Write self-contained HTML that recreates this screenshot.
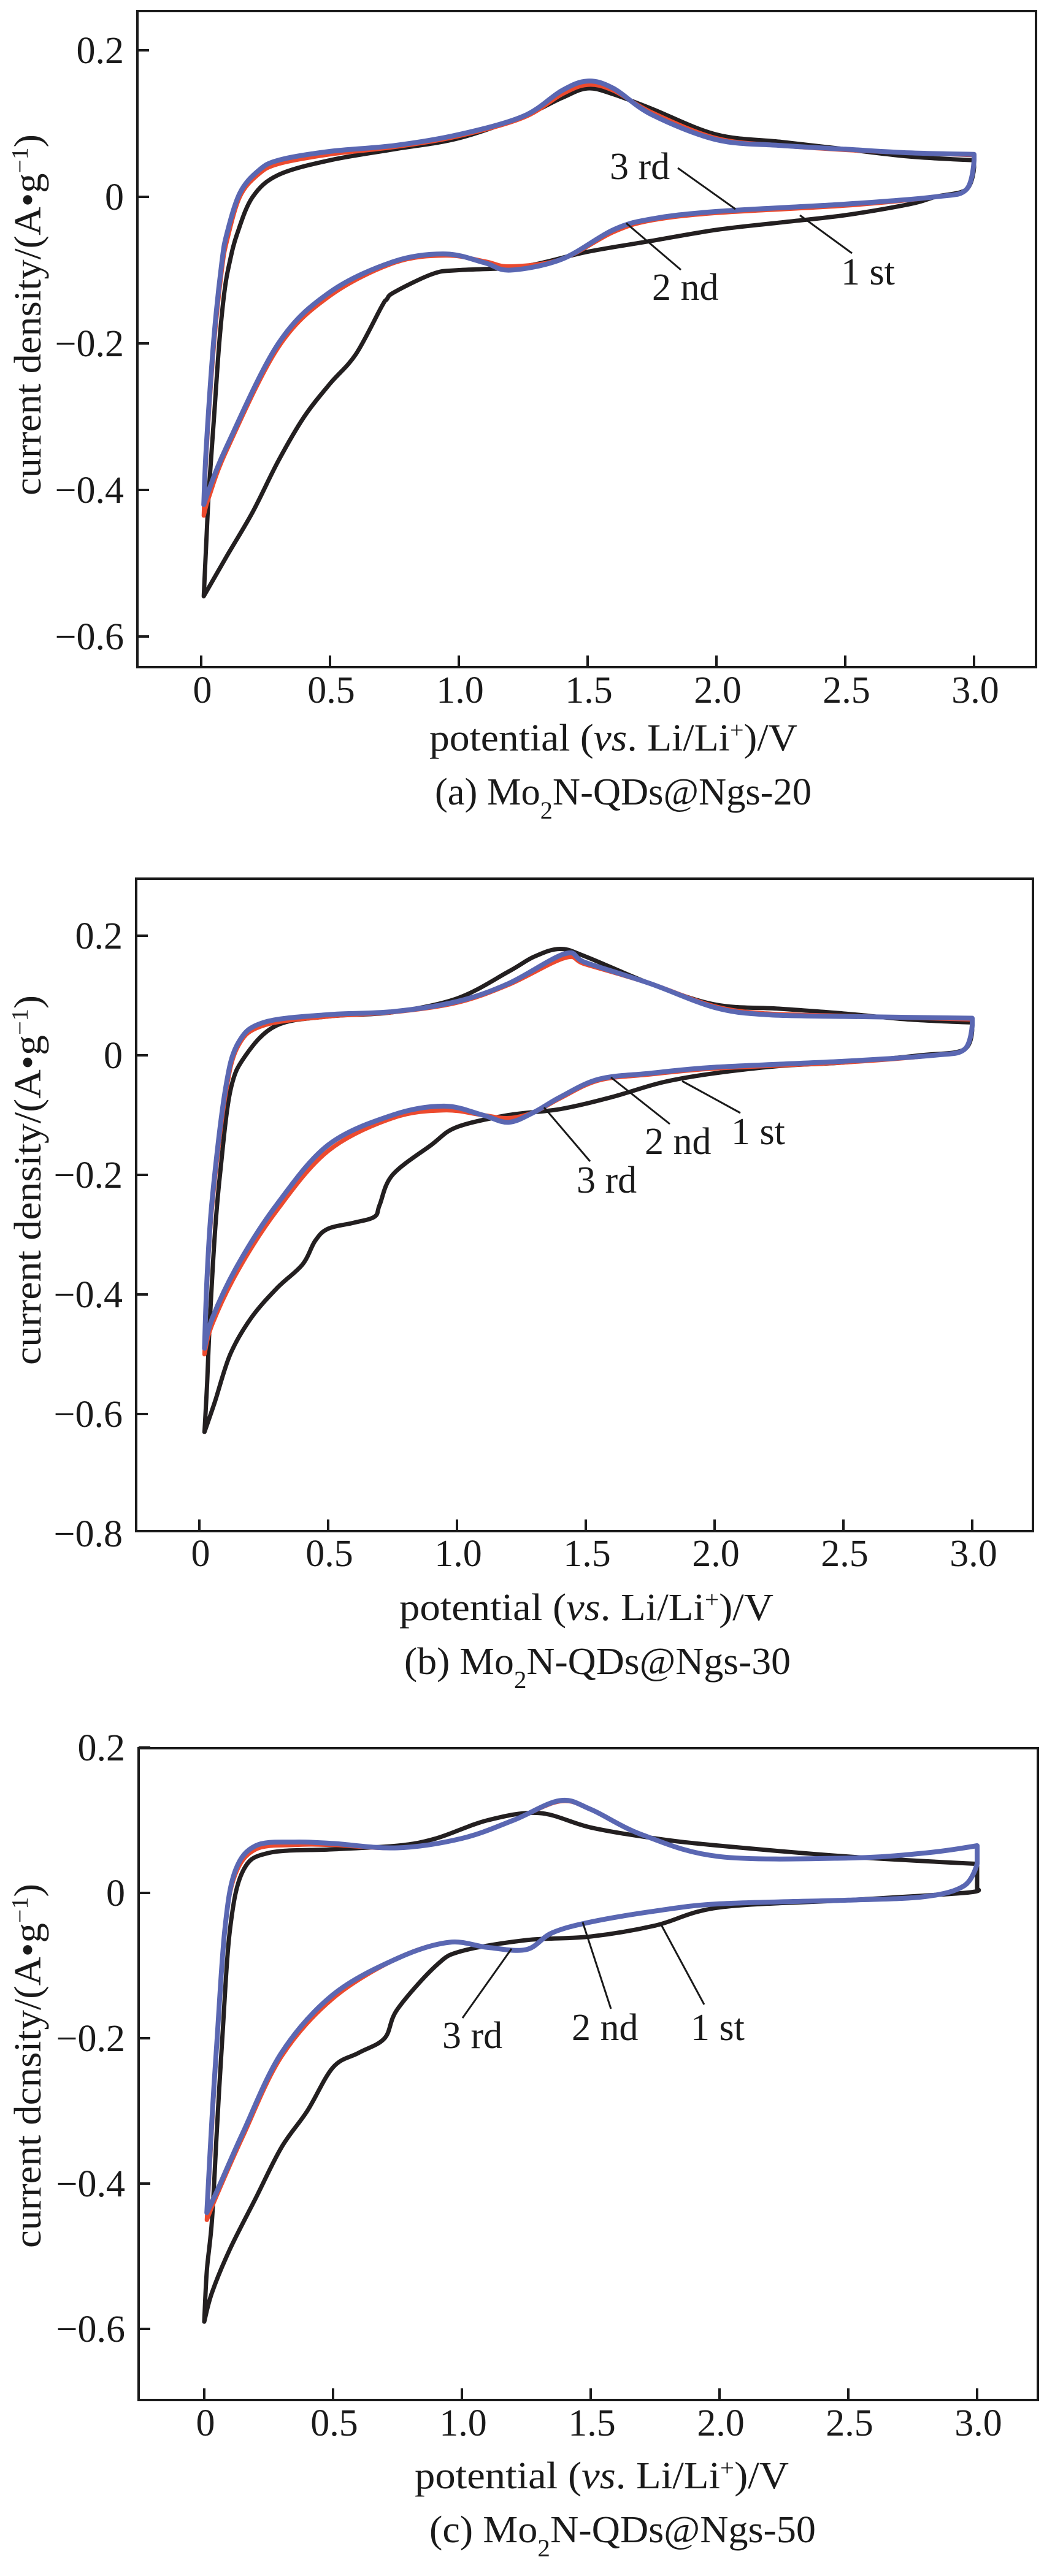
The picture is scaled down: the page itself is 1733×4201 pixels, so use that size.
<!DOCTYPE html>
<html>
<head>
<meta charset="utf-8">
<style>
html,body{margin:0;padding:0;background:#fff;}
svg{display:block;}
text{font-family:"Liberation Serif","DejaVu Serif",serif;fill:#1a1a1a;}
</style>
</head>
<body>
<svg id="fig" width="1733" height="4201" viewBox="0 0 1733 4201" xmlns="http://www.w3.org/2000/svg"></svg>
<script>
// ---------- DATA (potential V, current density A/g) ----------
// Panel (a) Mo2N-QDs@Ngs-20
const aCycle1X = [0.01,0.02,0.03,0.05,0.07,0.09,0.11,0.14,0.2,0.3,0.5,0.75,1.0,1.25,1.4,1.5,1.6,1.75,2.0,2.25,2.5,2.75,3.0, 3.0,2.97,2.85,2.75,2.5,2.25,2.0,1.75,1.5,1.25,1.0,0.9,0.75,0.72,0.7,0.6,0.5,0.4,0.3,0.2,0.1,0.01];
const aCycle1Y = [-0.545,-0.47,-0.4,-0.3,-0.2,-0.13,-0.09,-0.05,0.0,0.03,0.05,0.065,0.08,0.11,0.135,0.148,0.14,0.12,0.085,0.075,0.065,0.055,0.05, 0.04,0.01,0.0,-0.01,-0.025,-0.035,-0.045,-0.06,-0.075,-0.095,-0.1,-0.105,-0.13,-0.14,-0.15,-0.215,-0.255,-0.3,-0.36,-0.43,-0.49,-0.545];
const aCycle2X = [0.01,0.02,0.05,0.08,0.1,0.15,0.22,0.3,0.5,0.75,1.0,1.25,1.4,1.5,1.6,1.75,2.0,2.25,2.5,2.75,3.0, 3.0,2.97,2.85,2.5,2.0,1.75,1.6,1.4,1.2,1.1,0.95,0.75,0.5,0.3,0.1,0.03,0.01];
const aCycle2Y = [-0.435,-0.35,-0.2,-0.1,-0.06,0.0,0.03,0.045,0.058,0.068,0.083,0.108,0.14,0.153,0.145,0.115,0.08,0.07,0.064,0.06,0.057, 0.05,0.01,0.0,-0.012,-0.022,-0.032,-0.048,-0.085,-0.095,-0.088,-0.08,-0.09,-0.135,-0.205,-0.345,-0.41,-0.435];
const aCycle3X = [0.01,0.02,0.05,0.08,0.1,0.15,0.22,0.3,0.5,0.75,1.0,1.25,1.4,1.5,1.6,1.75,2.0,2.25,2.5,2.75,3.0, 3.0,2.97,2.85,2.5,2.0,1.75,1.6,1.4,1.2,1.1,0.95,0.75,0.5,0.3,0.1,0.03,0.01];
const aCycle3Y = [-0.42,-0.34,-0.19,-0.09,-0.05,0.005,0.035,0.05,0.062,0.07,0.085,0.11,0.145,0.158,0.148,0.112,0.078,0.07,0.065,0.06,0.058, 0.05,0.01,0.0,-0.01,-0.02,-0.03,-0.045,-0.085,-0.1,-0.09,-0.078,-0.088,-0.13,-0.2,-0.34,-0.4,-0.42];

// Panel (b) Mo2N-QDs@Ngs-30
const bCycle1X = [0.02,0.03,0.04,0.06,0.08,0.12,0.18,0.3,0.5,0.75,1.0,1.2,1.3,1.4,1.5,1.75,2.0,2.25,2.5,2.75,3.0, 3.0,2.97,2.8,2.5,2.25,2.0,1.8,1.6,1.4,1.2,1.0,0.9,0.75,0.7,0.68,0.6,0.5,0.45,0.4,0.3,0.2,0.12,0.06,0.02];
const bCycle1Y = [-0.63,-0.55,-0.45,-0.3,-0.2,-0.06,0.0,0.05,0.065,0.072,0.095,0.14,0.165,0.178,0.165,0.12,0.085,0.078,0.07,0.06,0.055, 0.05,0.01,0.0,-0.012,-0.018,-0.03,-0.045,-0.07,-0.09,-0.1,-0.12,-0.15,-0.2,-0.25,-0.27,-0.28,-0.29,-0.31,-0.35,-0.39,-0.44,-0.5,-0.58,-0.63];
const bCycle2X = [0.02,0.03,0.05,0.1,0.15,0.25,0.5,0.75,1.0,1.2,1.42,1.5,1.75,2.0,2.2,2.5,3.0, 3.0,2.97,2.85,2.5,2.0,1.75,1.55,1.4,1.3,1.2,1.1,0.95,0.75,0.5,0.3,0.15,0.05,0.02];
const bCycle2Y = [-0.5,-0.38,-0.25,-0.07,0.015,0.05,0.065,0.072,0.088,0.118,0.163,0.152,0.12,0.082,0.07,0.066,0.06, 0.05,0.01,0.0,-0.012,-0.022,-0.032,-0.042,-0.072,-0.095,-0.105,-0.1,-0.092,-0.105,-0.16,-0.26,-0.36,-0.45,-0.5];
const bCycle3X = [0.02,0.03,0.05,0.1,0.15,0.25,0.5,0.75,1.0,1.2,1.42,1.5,1.75,2.0,2.2,2.5,3.0, 3.0,2.97,2.85,2.5,2.0,1.75,1.55,1.4,1.3,1.2,1.1,0.95,0.75,0.5,0.3,0.15,0.05,0.02];
const bCycle3Y = [-0.49,-0.37,-0.24,-0.06,0.02,0.055,0.068,0.073,0.09,0.12,0.17,0.155,0.12,0.08,0.068,0.065,0.062, 0.05,0.01,0.0,-0.01,-0.02,-0.03,-0.04,-0.07,-0.095,-0.112,-0.1,-0.085,-0.1,-0.15,-0.25,-0.35,-0.44,-0.49];

// Panel (c) Mo2N-QDs@Ngs-50
const cCycle1X = [0.0,0.01,0.03,0.05,0.07,0.1,0.15,0.25,0.5,0.75,0.9,1.1,1.3,1.5,1.75,2.0,2.5,3.0, 3.0,2.95,2.5,2.0,1.75,1.5,1.25,1.0,0.9,0.75,0.7,0.6,0.5,0.4,0.3,0.2,0.1,0.03,0.0];
const cCycle1Y = [-0.59,-0.52,-0.45,-0.32,-0.2,-0.05,0.03,0.055,0.06,0.065,0.075,0.1,0.11,0.09,0.075,0.065,0.05,0.04, 0.005,0.0,-0.01,-0.02,-0.045,-0.06,-0.065,-0.08,-0.1,-0.16,-0.2,-0.22,-0.24,-0.3,-0.35,-0.42,-0.49,-0.55,-0.59];
const cCycle2X = [0.01,0.03,0.05,0.08,0.12,0.2,0.35,0.5,0.75,1.0,1.2,1.38,1.5,1.7,2.0,2.5,2.8,3.0, 3.0,2.95,2.8,2.5,2.0,1.75,1.5,1.35,1.25,1.1,0.95,0.75,0.5,0.3,0.15,0.05,0.01];
const cCycle2Y = [-0.45,-0.32,-0.2,-0.05,0.025,0.06,0.066,0.066,0.062,0.075,0.1,0.126,0.115,0.08,0.05,0.048,0.055,0.065, 0.04,0.01,-0.005,-0.01,-0.015,-0.025,-0.04,-0.055,-0.078,-0.075,-0.068,-0.09,-0.145,-0.225,-0.335,-0.415,-0.45];
const cCycle3X = [0.01,0.03,0.05,0.08,0.12,0.2,0.35,0.5,0.75,1.0,1.2,1.38,1.5,1.7,2.0,2.5,2.8,3.0, 3.0,2.95,2.8,2.5,2.0,1.75,1.5,1.35,1.25,1.1,0.95,0.75,0.5,0.3,0.15,0.05,0.01];
const cCycle3Y = [-0.44,-0.31,-0.2,-0.05,0.03,0.065,0.07,0.068,0.062,0.075,0.1,0.127,0.115,0.08,0.05,0.048,0.055,0.065, 0.04,0.01,-0.005,-0.01,-0.015,-0.025,-0.04,-0.055,-0.078,-0.075,-0.068,-0.09,-0.14,-0.22,-0.33,-0.41,-0.44];

// Tick labels
const xTickValues = [0,0.5,1.0,1.5,2.0,2.5,3.0];
const xTickLabels = ["0","0.5","1.0","1.5","2.0","2.5","3.0"];
const aYTickValues = [0.2,0,-0.2,-0.4,-0.6];
const aYTickLabels = ["0.2","0","\u22120.2","\u22120.4","\u22120.6"];
const bYTickValues = [0.2,0,-0.2,-0.4,-0.6,-0.8];
const bYTickLabels = ["0.2","0","\u22120.2","\u22120.4","\u22120.6","\u22120.8"];
const cYTickValues = [0.2,0,-0.2,-0.4,-0.6];
const cYTickLabels = ["0.2","0","\u22120.2","\u22120.4","\u22120.6"];

// ---------- LAYOUT ----------
const NS = "http://www.w3.org/2000/svg";
const svg = document.getElementById('fig');
const COLORS = ["#231f20","#ec4a2e","#5a67b2"];
const WIDTHS = [7,7,8];

function mk(tag, attrs, parent){
  const e = document.createElementNS(NS, tag);
  for (const k in attrs) e.setAttribute(k, attrs[k]);
  (parent||svg).appendChild(e);
  return e;
}

// Catmull-Rom smoothing; a vertical step (equal x) is treated as a sharp corner
function smoothPath(pts){
  const n = pts.length;
  const corner = i => (i > 0 && Math.abs(pts[i][0]-pts[i-1][0]) < 0.5) || (i < n-1 && Math.abs(pts[i][0]-pts[i+1][0]) < 0.5);
  let d = 'M' + pts[0][0].toFixed(1) + ',' + pts[0][1].toFixed(1);
  for (let i = 0; i < n - 1; i++){
    const p0 = pts[Math.max(0, i-1)], p1 = pts[i], p2 = pts[i+1], p3 = pts[Math.min(n-1, i+2)];
    let c1x = p1[0] + (p2[0]-p0[0])/6, c1y = p1[1] + (p2[1]-p0[1])/6;
    let c2x = p2[0] - (p3[0]-p1[0])/6, c2y = p2[1] - (p3[1]-p1[1])/6;
    if (corner(i)) { c1x = p1[0]; c1y = p1[1]; }
    if (corner(i+1)) { c2x = p2[0]; c2y = p2[1]; }
    d += 'C' + c1x.toFixed(1) + ',' + c1y.toFixed(1) + ' ' + c2x.toFixed(1) + ',' + c2y.toFixed(1) + ' ' + p2[0].toFixed(1) + ',' + p2[1].toFixed(1);
  }
  return d;
}

const panels = [
  {id:'a', left:224, right:1689, top:18, bottom:1088, x0:328, xStep:210, y0:321, yStep:239,
   yTicks:aYTickValues, yLabels:aYTickLabels, cycles:[[aCycle1X,aCycle1Y],[aCycle2X,aCycle2Y],[aCycle3X,aCycle3Y]],
   xLabelY:1146, titleY:1224, titleX:1000, titleLen:600, capY:1312, capX:1016, capLen:614, capText:['(a) Mo','N-QDs@Ngs-20'],
   yTitleX:66, yTitleTop:219, yTitleBot:808,
   notes:[{t:'3 rd',x:994,y:292,l:[1105,274,1199,341]},{t:'2 nd',x:1063,y:489,l:[1021,364,1110,440]},{t:'1 st',x:1371,y:464,l:[1304,351,1389,413]}]},
  {id:'b', left:222, right:1684, top:1433, bottom:2497, x0:325, xStep:210, y0:1721, yStep:195,
   yTicks:bYTickValues, yLabels:bYTickLabels, cycles:[[bCycle1X,bCycle1Y],[bCycle2X,bCycle2Y],[bCycle3X,bCycle3Y]],
   xLabelY:2554, titleY:2642, titleX:956, titleLen:610, capY:2730, capX:974, capLen:630, capText:['(b) Mo','N-QDs@Ngs-30'],
   yTitleX:66, yTitleTop:1623, yTitleBot:2226,
   notes:[{t:'2 nd',x:1051,y:1882,l:[996,1757,1092,1833]},{t:'1 st',x:1192,y:1866,l:[1112,1763,1207,1815]},{t:'3 rd',x:940,y:1945,l:[887,1806,962,1894]}]},
  {id:'c', left:226, right:1692, top:2851, bottom:3914, x0:333, xStep:210, y0:3087, yStep:237,
   yTicks:cYTickValues, yLabels:cYTickLabels, cycles:[[cCycle1X,cCycle1Y],[cCycle2X,cCycle2Y],[cCycle3X,cCycle3Y]],
   xLabelY:3972, titleY:4058, titleX:981, titleLen:610, capY:4146, capX:1015, capLen:630, capText:['(c) Mo','N-QDs@Ngs-50'],
   yTitleX:66, yTitleTop:3072, yTitleBot:3666, yTitleWord:'current dcnsity',
   notes:[{t:'3 rd',x:721,y:3340,l:[834,3178,754,3291]},{t:'2 nd',x:932,y:3327,l:[950,3135,996,3276]},{t:'1 st',x:1126,y:3327,l:[1078,3139,1148,3269]}]}
];

panels.forEach(p => {
  const g = mk('g', {});
  
  
  const sx = v => p.x0 + v / 0.5 * p.xStep;
  const sy = v => p.y0 - v / 0.2 * p.yStep;

  p.cycles.forEach((c, i) => {
    const pts = c[0].map((x, k) => [sx(x), sy(c[1][k])]);
    const pl = mk('path', {d:smoothPath(pts) + 'Z', fill:'none', stroke:COLORS[i], 'stroke-width':WIDTHS[i], 'stroke-linejoin':'round'}, g);
    
    
  });

  const fr = mk('rect', {x:p.left, y:p.top, width:p.right-p.left, height:p.bottom-p.top, fill:'none', stroke:'#1a1a1a', 'stroke-width':4}, g);
  
  

  xTickValues.forEach((v, i) => {
    const x = sx(v);
    const t = mk('line', {x1:x, x2:x, y1:p.bottom, y2:p.bottom-19, stroke:'#1a1a1a', 'stroke-width':4}, g);
    
    
    const lb = mk('text', {x:x+2, y:p.xLabelY, 'font-size':62, 'text-anchor':'middle'}, g);
    lb.textContent = xTickLabels[i];
    
    
  });
  p.yTicks.forEach((v, i) => {
    const y = sy(v);
    if (y < p.bottom - 3) {
      const t = mk('line', {x1:p.left, x2:p.left+19, y1:y, y2:y, stroke:'#1a1a1a', 'stroke-width':4}, g);
      
      
    }
    const lb = mk('text', {x:p.left-22, y:y+21, 'font-size':62, 'text-anchor':'end'}, g);
    lb.textContent = p.yLabels[i];
    
    
  });

  const xt = mk('text', {x:p.titleX, y:p.titleY, 'font-size':62, 'text-anchor':'middle', textLength:p.titleLen, lengthAdjust:'spacingAndGlyphs'}, g);
  
  
  xt.innerHTML = 'potential (<tspan font-style="italic">vs</tspan>. Li/Li<tspan baseline-shift="super" font-size="38">+</tspan>)/V';

  const cp = mk('text', {x:p.capX, y:p.capY, 'font-size':62, 'text-anchor':'middle', textLength:p.capLen, lengthAdjust:'spacingAndGlyphs'}, g);
  
  
  cp.innerHTML = p.capText[0] + '<tspan baseline-shift="sub" font-size="40">2</tspan>' + p.capText[1];

  const cy = (p.yTitleTop + p.yTitleBot) / 2;
  const yt = mk('text', {x:0, y:0, 'font-size':62, 'text-anchor':'middle', textLength:(p.yTitleBot-p.yTitleTop), lengthAdjust:'spacingAndGlyphs', transform:'translate(' + p.yTitleX + ',' + cy + ') rotate(-90)'}, g);
  
  
  yt.innerHTML = (p.yTitleWord || 'current density') + '/(A\u2022g<tspan baseline-shift="super" font-size="38">\u22121</tspan>)';

  p.notes.forEach(n => {
    const ln = mk('line', {x1:n.l[0], y1:n.l[1], x2:n.l[2], y2:n.l[3], stroke:'#1a1a1a', 'stroke-width':3}, g);
    
    
    const tx = mk('text', {x:n.x, y:n.y, 'font-size':62}, g);
    tx.textContent = n.t;
    
    
  });
});
</script>
</body>
</html>
